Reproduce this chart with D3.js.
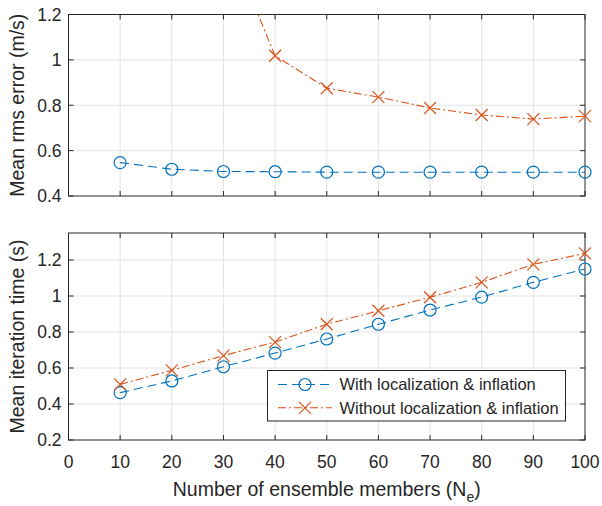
<!DOCTYPE html>
<html><head><meta charset="utf-8">
<script src="https://cdn.jsdelivr.net/npm/d3@7"></script>
<style>body{margin:0;background:#fff}svg{display:block}text{font-family:"Liberation Sans",Arial,Helvetica,sans-serif;fill:#262626}</style>
</head><body><svg id="c" width="602" height="506"></svg>
<script>
const ensembleMembers = [10,20,30,40,50,60,70,80,90,100];
const rmsWith = [0.547,0.518,0.508,0.507,0.505,0.505,0.505,0.505,0.505,0.505];
const rmsWithout = [3.2,2.3,1.57,1.018,0.875,0.836,0.788,0.757,0.739,0.752];
const timeWith = [0.463,0.528,0.607,0.683,0.761,0.843,0.922,0.994,1.076,1.150];
const timeWithout = [0.509,0.587,0.669,0.744,0.843,0.918,0.993,1.076,1.176,1.237];
const xTicks = [0,10,20,30,40,50,60,70,80,90,100];
const topYTicks = [0.4,0.6,0.8,1,1.2];
const botYTicks = [0.2,0.4,0.6,0.8,1,1.2];
const legendLabels = ["With localization & inflation","Without localization & inflation"];
const colors = ["#0072BD","#D95319"];

const svg = d3.select("#c");
const L = 68.5, R = 585;
const x = d3.scaleLinear().domain([0,100]).range([L,R]);
const axColor = "#262626", gridColor = "#e3e3e3";
const tickLen = 5;

function panel(id, top, bottom, ydom, yticks, showX, series, ylabel){
  const y = d3.scaleLinear().domain(ydom).range([bottom, top]);
  const g = svg.append("g");
  const cp = "clip"+id;
  svg.append("clipPath").attr("id",cp).append("rect").attr("x",L).attr("y",top).attr("width",R-L).attr("height",bottom-top);
  g.append("g").selectAll("line").data(xTicks.filter(d=>d>0&&d<100)).join("line")
    .attr("x1",d=>x(d)).attr("x2",d=>x(d)).attr("y1",top).attr("y2",bottom).attr("stroke",gridColor).attr("stroke-width",1);
  g.append("g").selectAll("line").data(yticks.filter(d=>d>ydom[0]&&d<ydom[1])).join("line")
    .attr("x1",L).attr("x2",R).attr("y1",d=>y(d)).attr("y2",d=>y(d)).attr("stroke",gridColor).attr("stroke-width",1);
  const tk = g.append("g").attr("stroke",axColor).attr("stroke-width",1);
  xTicks.forEach(d=>{
    tk.append("line").attr("x1",x(d)).attr("x2",x(d)).attr("y1",bottom).attr("y2",bottom-tickLen);
    tk.append("line").attr("x1",x(d)).attr("x2",x(d)).attr("y1",top).attr("y2",top+tickLen);
  });
  yticks.forEach(d=>{
    tk.append("line").attr("x1",L).attr("x2",L+tickLen).attr("y1",y(d)).attr("y2",y(d));
    tk.append("line").attr("x1",R).attr("x2",R-tickLen).attr("y1",y(d)).attr("y2",y(d));
  });
  g.append("rect").attr("x",L).attr("y",top).attr("width",R-L).attr("height",bottom-top)
    .attr("fill","none").attr("stroke",axColor).attr("stroke-width",1);
  g.append("g").selectAll("text").data(yticks).join("text")
    .attr("x",L-7).attr("y",d=>y(d)).attr("dy","0.36em").attr("text-anchor","end")
    .attr("font-size",17.5).text(d=>d3.format("~g")(d));
  if(showX){
    g.append("g").selectAll("text").data(xTicks).join("text")
      .attr("x",d=>x(d)).attr("y",bottom+28).attr("text-anchor","middle")
      .attr("font-size",17.5).text(d=>d);
  }
  g.append("text").attr("transform",`translate(24,${(top+bottom)/2}) rotate(-90)`)
    .attr("text-anchor","middle").attr("font-size",19.5).text(ylabel);
  const dg = g.append("g").attr("clip-path",`url(#${cp})`);
  const mg = g.append("g");
  series.forEach((s,i)=>{
    const line = d3.line().x((d,j)=>x(ensembleMembers[j])).y(d=>y(d));
    dg.append("path").attr("d",line(s)).attr("fill","none").attr("stroke",colors[i])
      .attr("stroke-width",1.1).attr("stroke-dasharray",i===0?"9,5":"8,3,2,3");
    const pts = s.map((v,j)=>[ensembleMembers[j],v]).filter(p=>p[1]>=ydom[0]&&p[1]<=ydom[1]).map(p=>[x(p[0]),y(p[1])]);
    drawMarkers(mg, pts, i);
  });
}
function drawMarkers(g, pts, i){
  if(i===0){
    g.selectAll(null).data(pts).join("circle").attr("cx",d=>d[0]).attr("cy",d=>d[1]).attr("r",6)
      .attr("fill","none").attr("stroke",colors[0]).attr("stroke-width",1.2);
  } else {
    const s=6;
    g.selectAll(null).data(pts).join("path")
      .attr("d",d=>`M${d[0]-s},${d[1]-s}L${d[0]+s},${d[1]+s}M${d[0]-s},${d[1]+s}L${d[0]+s},${d[1]-s}`)
      .attr("stroke",colors[1]).attr("stroke-width",1.2).attr("fill","none");
  }
}

panel("a", 14.5, 196, [0.4,1.2], topYTicks, false, [rmsWith, rmsWithout], "Mean rms error (m/s)");
panel("b", 233, 440, [0.2,1.35], botYTicks, true, [timeWith, timeWithout], "Mean iteration time (s)");

const xl = svg.append("text").attr("x",(L+R)/2).attr("y",496).attr("text-anchor","middle").attr("font-size",19.5);
xl.append("tspan").text("Number of ensemble members (N");
xl.append("tspan").attr("font-size",14).attr("dy",6).text("e");
xl.append("tspan").attr("dy",-6).text(")");

const lg = svg.append("g");
lg.append("rect").attr("x",267.5).attr("y",370.5).attr("width",298).attr("height",50.5)
  .attr("fill","#fff").attr("stroke",axColor).attr("stroke-width",1);
legendLabels.forEach((lab,i)=>{
  const yy = 384.5 + i*23.3;
  lg.append("line").attr("x1",278).attr("x2",332).attr("y1",yy).attr("y2",yy)
    .attr("stroke",colors[i]).attr("stroke-width",1.1).attr("stroke-dasharray",i===0?"9,5":"8,3,2,3");
  drawMarkers(lg, [[305,yy]], i);
  lg.append("text").attr("x",339.5).attr("y",yy).attr("dy","0.36em").attr("font-size",16.5).text(lab);
});
</script></body></html>
